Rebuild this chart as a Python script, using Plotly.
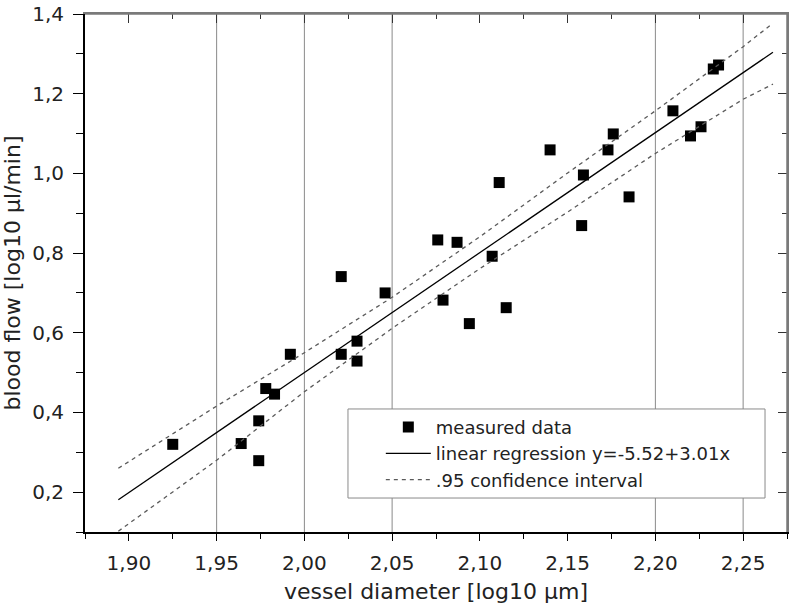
import plotly.graph_objects as go

# measured data (log10 vessel diameter, log10 blood flow)
diam = [1.925, 1.964, 1.974, 1.974, 1.978, 1.983, 1.992, 2.021, 2.030, 2.030,
        2.021, 2.046, 2.076, 2.087, 2.107, 2.079, 2.115, 2.094, 2.111, 2.158,
        2.140, 2.176, 2.173, 2.159, 2.185, 2.210, 2.220, 2.226, 2.233, 2.236]
flow = [0.320, 0.322, 0.279, 0.379, 0.460, 0.446, 0.546, 0.546, 0.579, 0.529,
        0.741, 0.700, 0.833, 0.827, 0.792, 0.682, 0.663, 0.623, 0.977, 0.869,
        1.059, 1.099, 1.059, 0.996, 0.941, 1.157, 1.094, 1.117, 1.262, 1.272]

# regression line endpoints (y=-5.52+3.01x)
reg_x = [1.894, 2.267]
reg_y = [0.181, 1.304]

# .95 confidence band
ci_x = [1.894, 1.95, 2.00, 2.05, 2.10, 2.15, 2.20, 2.25, 2.267]
ci_upper = [0.260, 0.416, 0.550, 0.689, 0.841, 1.001, 1.157, 1.318, 1.377]
ci_lower = [0.102, 0.280, 0.452, 0.611, 0.761, 0.903, 1.050, 1.186, 1.224]

grid_x = [1.95, 2.00, 2.05, 2.20, 2.25]
x_range = [1.875, 2.275]
y_range = [0.1, 1.4]

FONT = "DejaVu Sans, Liberation Sans, sans-serif"
TXT = "#222222"
GREY = "#8a8a8a"
FRAME = "#7a7a7a"

fig = go.Figure()
fig.add_trace(go.Scatter(x=diam, y=flow, mode="markers", name="measured data",
                         marker=dict(symbol="square", size=11, color="black")))
fig.add_trace(go.Scatter(x=reg_x, y=reg_y, mode="lines",
                         name="linear regression y=-5.52+3.01x",
                         line=dict(color="black", width=1.3)))
fig.add_trace(go.Scatter(x=ci_x, y=ci_upper, mode="lines", name=".95 confidence interval",
                         line=dict(color="#5a5a5a", width=1.3, dash="4px,4px")))
fig.add_trace(go.Scatter(x=ci_x, y=ci_lower, mode="lines", showlegend=False,
                         line=dict(color="#5a5a5a", width=1.3, dash="4px,4px")))
# invisible trace to activate top/right axes
fig.add_trace(go.Scatter(x=x_range, y=y_range, xaxis="x2", yaxis="y2", mode="markers",
                         marker=dict(opacity=0), showlegend=False, hoverinfo="skip"))

for gx in grid_x:
    fig.add_shape(type="line", x0=gx, x1=gx, y0=y_range[0], y1=y_range[1],
                  xref="x", yref="y", layer="below", line=dict(color=GREY, width=1))

# top and right frame lines
fig.add_shape(type="line", xref="paper", yref="paper", x0=0, x1=1, y0=1, y1=1,
              layer="above", line=dict(color=FRAME, width=1.5))
fig.add_shape(type="line", xref="paper", yref="paper", x0=1, x1=1, y0=0, y1=1,
              layer="above", line=dict(color=FRAME, width=1.5))

# legend frame
fig.add_shape(type="rect", xref="paper", yref="paper",
              x0=0.3746, x1=0.9687, y0=0.0656, y1=0.2375, layer="above",
              fillcolor="white", line=dict(color=GREY, width=1))

fig.update_layout(
    width=791, height=610,
    margin=dict(l=85, r=4, t=14, b=78),
    paper_bgcolor="white", plot_bgcolor="white",
    separators=",.",
    font=dict(family=FONT, color=TXT, size=20),
    xaxis=dict(range=x_range, tick0=1.9, dtick=0.05, tickformat=".2f",
               ticks="outside", ticklen=7, tickwidth=1.2, tickcolor="black",
               showline=True, linecolor="black", linewidth=1.5,
               showgrid=False, zeroline=False, automargin=False,
               ticklabelstandoff=5, ticklabeloverflow="allow",
               minor=dict(ticks="outside", dtick=0.025, tick0=1.875, ticklen=5,
                          tickcolor="black", showgrid=False),
               title=dict(text="vessel diameter [log10 µm]", standoff=10,
                          font=dict(size=22)),
               tickfont=dict(size=20)),
    yaxis=dict(range=y_range, tick0=0.2, dtick=0.2, tickformat=".1f",
               ticks="outside", ticklen=10, tickwidth=1.2, tickcolor="black",
               showline=True, linecolor="black", linewidth=2,
               showgrid=False, zeroline=False, automargin=False,
               ticklabelstandoff=5, ticklabeloverflow="allow",
               minor=dict(ticks="outside", dtick=0.1, tick0=0.1, ticklen=7,
                          tickcolor="black", showgrid=False),
               title=dict(text="blood flow [log10 µl/min]", standoff=6,
                          font=dict(size=22)),
               tickfont=dict(size=20)),
    xaxis2=dict(range=x_range, overlaying="x", side="top", anchor="y2",
                showticklabels=False,
                tick0=1.9, dtick=0.05, ticks="inside", ticklen=9, tickcolor="#333",
                showline=True, linecolor=FRAME, linewidth=1.5, showgrid=False,
                zeroline=False, automargin=False,
                minor=dict(ticks="inside", dtick=0.025, tick0=1.875, ticklen=5,
                           tickcolor="#333", showgrid=False)),
    yaxis2=dict(range=y_range, overlaying="y", side="right", anchor="x2",
                showticklabels=False,
                tick0=0.2, dtick=0.2, ticks="inside", ticklen=9, tickcolor="#333",
                showline=True, linecolor=FRAME, linewidth=1.5, showgrid=False,
                zeroline=False, automargin=False,
                minor=dict(ticks="inside", dtick=0.1, tick0=0.1, ticklen=5,
                           tickcolor="#333", showgrid=False)),
    legend=dict(x=0.4214, y=0.238, xanchor="left", yanchor="top",
                bgcolor="rgba(0,0,0,0)", borderwidth=0,
                font=dict(size=18, color=TXT), itemwidth=45,
                tracegroupgap=0),
    showlegend=True,
)

fig.write_html("out.html", config={"displayModeBar": False},
               post_script="document.body.style.margin='0';document.body.style.padding='0';")
